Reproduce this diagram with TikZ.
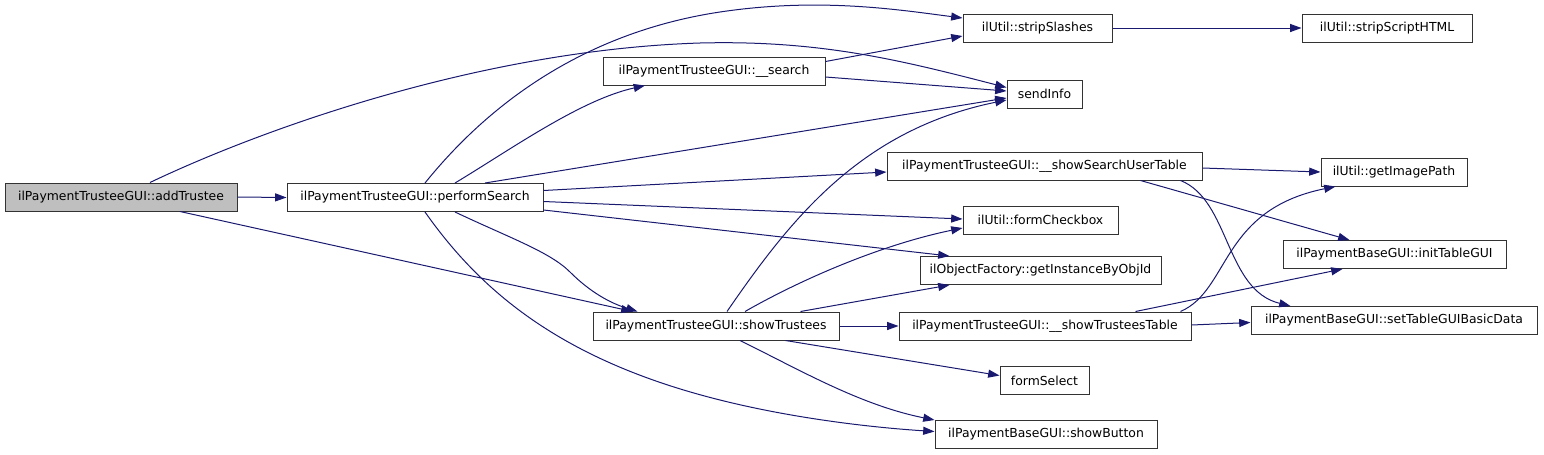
\documentclass[tikz,border=0pt]{standalone}
\usepackage{fontspec}
\setmainfont{DejaVu Sans}
\usetikzlibrary{arrows.meta,calc}
\definecolor{edgeblue}{HTML}{191970}
\definecolor{graybox}{HTML}{BFBFBF}
\begin{document}
\begin{tikzpicture}[x=0.75pt,y=-0.75pt,
  box/.style={draw=black!80, line width=0.75pt, fill=white, rectangle, inner sep=0pt,
    minimum height=21pt, font=\fontsize{9.3}{11}\selectfont},
  bw/.style={minimum width=#1*0.75pt},
  arr/.style={draw=edgeblue, line width=0.75pt, -{Triangle[length=8.5pt,width=6pt]}}]
\useasboundingbox (0,0) rectangle (1544,454);

\node[box, fill=graybox, bw=232] (at) at (121,197) {ilPaymentTrusteeGUI::addTrustee};
\node[box, bw=256] (ps) at (415,197.5) {ilPaymentTrusteeGUI::performSearch};
\node[box, bw=149] (ss) at (1037.5,28) {ilUtil::stripSlashes};
\node[box, bw=170] (sh) at (1387,28) {ilUtil::stripScriptHTML};
\node[box, bw=222] (se) at (714,71) {ilPaymentTrusteeGUI::\_\_search};
\node[box, bw=75] (si) at (1044.5,94) {sendInfo};
\node[box, bw=315] (sut) at (1044.5,166) {ilPaymentTrusteeGUI::\_\_showSearchUserTable};
\node[box, bw=146] (gip) at (1394,172) {ilUtil::getImagePath};
\node[box, bw=155] (fc) at (1040.5,220) {ilUtil::formCheckbox};
\node[box, bw=223] (itg) at (1394.5,254.5) {ilPaymentBaseGUI::initTableGUI};
\node[box, bw=241] (gi) at (1040.5,270.5) {ilObjectFactory::getInstanceByObjId};
\node[box, bw=246] (st) at (716,326) {ilPaymentTrusteeGUI::showTrustees};
\node[box, bw=292] (stt) at (1045,326) {ilPaymentTrusteeGUI::\_\_showTrusteesTable};
\node[box, bw=286] (stg) at (1394,320.5) {ilPaymentBaseGUI::setTableGUIBasicData};
\node[box, bw=89] (fs) at (1044.5,380.5) {formSelect};
\node[box, bw=222] (sb) at (1046,434.5) {ilPaymentBaseGUI::showButton};

% addTrustee
\draw[arr] (at.east) -- (ps.west);
\draw[arr] ($(at.north)+(29,0)$) .. controls (260,130) and (480,50) .. (700,43) .. controls (820,40) and (900,60) .. ($(si.north west)+(0,8)$);
\draw[arr] ($(at.south)+(59,0)$) -- ($(st.north west)+(40,0)$);
% performSearch
\draw[arr] ($(ps.north)+(10,0)$) .. controls (500,90) and (600,30) .. (720,12) .. controls (820,-3) and (900,10) .. ($(ss.west)+(0,-10)$);
\draw[arr] ($(ps.north)+(40,0)$) .. controls (510,150) and (580,100) .. ($(se.south)+(-69,0)$);
\draw[arr] ($(ps.north)+(70,0)$) -- ($(si.west)+(0,4)$);
\draw[arr] ($(ps.east)+(0,-7)$) -- ($(sut.west)+(0,6)$);
\draw[arr] ($(ps.east)+(0,4)$) -- ($(fc.west)+(0,-1)$);
\draw[arr] ($(ps.south east)+(0,-2)$) -- ($(gi.north west)+(30,0)$);
\draw[arr] ($(ps.south)+(40,0)$) .. controls (510,238) and (550,252) .. (570,272) .. controls (590,292) and (610,303) .. ($(st.north west)+(45,0)$);
\draw[arr] ($(ps.south)+(10,0)$) .. controls (480,290) and (560,360) .. (720,400) .. controls (800,420) and (880,428) .. ($(sb.west)+(0,-3)$);
% __search
\draw[arr] ($(se.north east)+(0,5)$) -- ($(ss.west)+(0,8)$);
\draw[arr] ($(se.east)+(0,6)$) -- ($(si.west)+(0,-3)$);
% stripSlashes
\draw[arr] (ss.east) -- (sh.west);
% showTrustees
\draw[arr] ($(st.north)+(11,0)$) .. controls (790,220) and (860,130) .. ($(si.west)+(0,6)$);
\draw[arr] ($(st.north)+(29,0)$) .. controls (800,280) and (880,245) .. ($(fc.west)+(0,8)$);
\draw[arr] ($(st.north east)+(-39,0)$) -- ($(gi.south west)+(30,0)$);
\draw[arr] (st.east) -- (stt.west);
\draw[arr] ($(st.south east)+(-54,0)$) -- ($(fs.west)+(0,-5)$);
\draw[arr] ($(st.south)+(24,0)$) .. controls (800,370) and (860,405) .. (sb.north west);
% __showSearchUserTable
\draw[arr] ($(sut.east)+(0,2)$) -- (gip.west);
\draw[arr] ($(sut.south east)+(-62,0)$) -- ($(itg.north west)+(67,0)$);
\draw[arr] ($(sut.south east)+(-22,0)$) .. controls (1230,200) and (1225,290) .. ($(stg.north west)+(40,0)$);
% __showTrusteesTable
\draw[arr] ($(stt.north east)+(-11,0)$) .. controls (1230,290) and (1220,210) .. ($(gip.south west)+(15,0)$);
\draw[arr] ($(stt.north east)+(-56,0)$) -- ($(itg.south west)+(60,0)$);
\draw[arr] ($(stt.east)+(0,-1)$) -- ($(stg.west)+(0,2)$);
\end{tikzpicture}
\end{document}
